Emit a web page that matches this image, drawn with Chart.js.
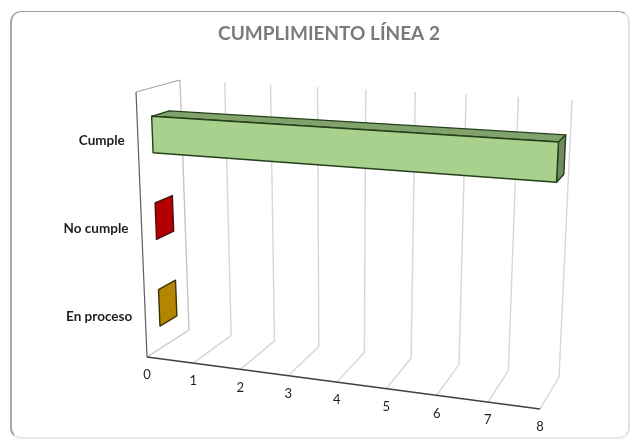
<!DOCTYPE html>
<html lang="es">
<head>
    <meta charset="UTF-8">
    <title>Cumplimiento línea 2</title>
    <script src="https://cdn.jsdelivr.net/npm/chart.js"></script>
    <style>
        html, body { margin: 0; background: #fff; }
        .frame {
            position: absolute;
            left: 10px; top: 11px; width: 620px; height: 428px;
            border: 1px solid #a0a0a0;
            border-left: 2px solid #a8a8a8;
            border-right: 2px solid #e2e2e2;
            border-bottom: 2px solid #e8e8e8;
            border-radius: 11px;
            box-sizing: border-box;
        }
        canvas { position: absolute; left: 0; top: 0; }
    </style>
</head>
<body>
    <div class="frame"></div>
    <div style="position:absolute;left:0;top:0;width:632px;height:443px">
        <canvas id="chart" width="632" height="443"></canvas>
    </div>
    <script>
        const categories = ['Cumple', 'No cumple', 'En proceso'];
        const values = [8, 0, 0];
        const frontColors = ['#a9d18e', '#c00000', '#bf8f00'];
        const topColors = ['#82a26c', '#9a0000', '#98720a'];
        const sideColors = ['#6f8a5d', '#b40000', '#b48600'];
        const edgeColors = ['#24401a', '#4a1010', '#3f3208'];
        const xMax = 8;

        // Corners of the 3D box in the picture: back/front, bottom/top, at value 0 and at xMax
        const box = {
            backBottom: [[189, 330], [559, 377]],
            backTop: [[180, 80], [572, 100]],
            frontBottom: [[147, 357], [540, 409]],
            frontTop: [[136, 92], [554, 116]]
        };
        const barBack = 0.27, barFront = 0.67, barDrop = 0.012;
        const perspectiveBack = 1.11, perspectiveFront = 1.07;

        function lerp(a, b, t) { return a + (b - a) * t; }
        function lerpPt(p, q, t) { return [lerp(p[0], q[0], t), lerp(p[1], q[1], t)]; }

        // u along the value axis, h up the wall, d from back wall to the front
        function project(u, h, d) {
            const c = lerp(perspectiveBack, perspectiveFront, d);
            const f = u / (c - (c - 1) * u);
            const bottom = lerpPt(lerpPt(box.backBottom[0], box.backBottom[1], f), lerpPt(box.frontBottom[0], box.frontBottom[1], f), d);
            const top = lerpPt(lerpPt(box.backTop[0], box.backTop[1], f), lerpPt(box.frontTop[0], box.frontTop[1], f), d);
            return lerpPt(bottom, top, h);
        }

        function line(ctx, pts, color, width) {
            ctx.beginPath();
            pts.forEach((p, i) => i ? ctx.lineTo(p[0], p[1]) : ctx.moveTo(p[0], p[1]));
            ctx.strokeStyle = color;
            ctx.lineWidth = width;
            ctx.stroke();
        }

        function face(ctx, pts, fill, edge) {
            ctx.beginPath();
            pts.forEach((p, i) => i ? ctx.lineTo(p[0], p[1]) : ctx.moveTo(p[0], p[1]));
            ctx.closePath();
            ctx.fillStyle = fill;
            ctx.fill();
            ctx.strokeStyle = edge;
            ctx.lineWidth = 1.4;
            ctx.lineJoin = 'round';
            ctx.stroke();
        }

        const perspectivePlugin = {
            id: 'perspective',
            beforeDatasetsDraw(chart) {
                const ctx = chart.ctx, xs = chart.scales.x, area = chart.chartArea;
                const toU = v => (xs.getPixelForValue(v) - area.left) / area.width;
                ctx.save();
                xs.ticks.forEach(t => {
                    const u = toU(t.value);
                    line(ctx, [project(u, 0, 1), project(u, 0, 0), project(u, 1, 0)], t.value === 0 ? '#c4c4c4' : '#d6d6d6', 1.4);
                });
                line(ctx, [project(0, 0, 1), project(0, 1, 1)], '#5f5f5f', 1.2);
                line(ctx, [project(0, 1, 1), project(0, 1, 0)], '#a6a6a6', 1.2);
                line(ctx, [project(0, 0, 1), project(1, 0, 1)], '#404040', 1.5);
                ctx.restore();
            },
            beforeDatasetDraw(chart, args) {
                const ctx = chart.ctx, area = chart.chartArea;
                const toU = px => (px - area.left) / area.width;
                const toH = py => 1 - (py - area.top) / area.height - barDrop;
                ctx.save();
                args.meta.data.forEach((bar, i) => {
                    const u0 = toU(bar.base), u1 = toU(bar.x);
                    const hi = toH(bar.y - bar.height / 2), lo = toH(bar.y + bar.height / 2);
                    if (u1 > u0) {
                        face(ctx, [project(u0, hi, barBack), project(u1, hi, barBack), project(u1, hi, barFront), project(u0, hi, barFront)], topColors[i], edgeColors[i]);
                    }
                    face(ctx, [project(u1, hi, barBack), project(u1, lo, barBack), project(u1, lo, barFront), project(u1, hi, barFront)], sideColors[i], edgeColors[i]);
                    if (u1 > u0) {
                        face(ctx, [project(u0, hi, barFront), project(u1, hi, barFront), project(u1, lo, barFront), project(u0, lo, barFront)], frontColors[i], edgeColors[i]);
                    }
                });
                ctx.restore();
                return false;
            },
            afterDraw(chart) {
                const ctx = chart.ctx, xs = chart.scales.x, ys = chart.scales.y, area = chart.chartArea;
                ctx.save();
                ctx.textBaseline = 'middle';
                ctx.fillStyle = '#1f1f1f';
                ctx.font = 'bold 13.5px Lato';
                ctx.textAlign = 'right';
                ys.getLabels().forEach((label, i) => {
                    const p = project(0, 1 - (ys.getPixelForValue(i) - area.top) / area.height, 1);
                    ctx.fillText(label, p[0] - 13, p[1] + 4);
                });
                ctx.font = '13px Lato';
                ctx.textAlign = 'center';
                xs.ticks.forEach(t => {
                    const p = project((xs.getPixelForValue(t.value) - area.left) / area.width, 0, 1);
                    ctx.fillText(t.label, p[0], p[1] + 18);
                });
                ctx.restore();
            }
        };

        new Chart(document.getElementById('chart'), {
            type: 'bar',
            data: {
                labels: categories,
                datasets: [{ data: values, backgroundColor: frontColors, categoryPercentage: 1, barPercentage: 0.42 }]
            },
            options: {
                indexAxis: 'y',
                responsive: false,
                animation: false,
                layout: { padding: { left: 26, right: 0, top: 0, bottom: 0 } },
                scales: {
                    x: { display: false, min: 0, max: xMax, ticks: { stepSize: 1 } },
                    y: { display: false }
                },
                plugins: {
                    legend: { display: false },
                    tooltip: { enabled: false },
                    title: {
                        display: true,
                        text: 'CUMPLIMIENTO LÍNEA 2',
                        color: '#7a7a7a',
                        font: { family: 'Lato', size: 19, weight: 'bold' },
                        padding: { top: 22, bottom: 10 }
                    }
                }
            },
            plugins: [perspectivePlugin]
        });
    </script>
</body>
</html>
